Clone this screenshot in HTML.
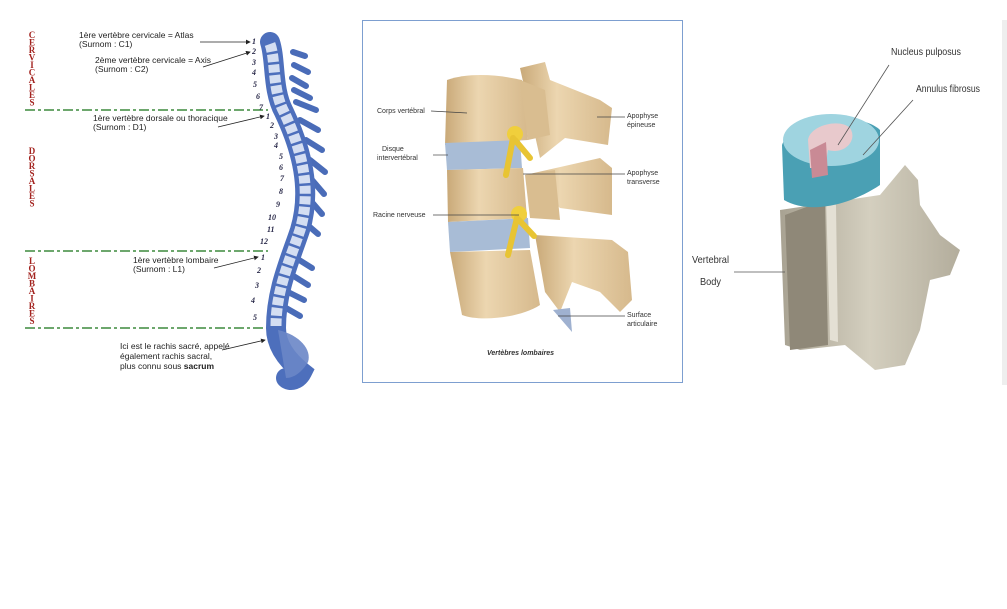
<!DOCTYPE html>
<html><head><meta charset="utf-8"><style>
body{margin:0;background:#fff;width:1007px;height:609px;overflow:hidden;font-family:"Liberation Sans",sans-serif}
svg{position:absolute;left:0;top:0}
</style></head><body>
<svg width="1007" height="609" viewBox="0 0 1007 609">
<defs>
<marker id="ar" markerWidth="6" markerHeight="6" refX="5" refY="3" orient="auto"><path d="M0,0L6,3L0,6z" fill="#222"/></marker>
<linearGradient id="bone" x1="0" x2="1"><stop offset="0" stop-color="#c9a978"/><stop offset=".4" stop-color="#ecd6b0"/><stop offset="1" stop-color="#d6b98c"/></linearGradient>
<linearGradient id="gb" x1="0" x2="1"><stop offset="0" stop-color="#a8a292"/><stop offset=".5" stop-color="#d4cfbf"/><stop offset="1" stop-color="#b3ad9c"/></linearGradient>
</defs>

<!-- Panel 1 -->
<g font-family="Liberation Serif,serif" font-weight="bold" font-size="9" fill="#a3231f" text-anchor="middle">
<text x="32" y="38">C</text><text x="32" y="45.5">E</text><text x="32" y="53">R</text><text x="32" y="60.5">V</text><text x="32" y="68">I</text><text x="32" y="75.5">C</text><text x="32" y="83">A</text><text x="32" y="90.5">L</text><text x="32" y="98">E</text><text x="32" y="105.5">S</text>
<text x="32" y="154">D</text><text x="32" y="161.5">O</text><text x="32" y="169">R</text><text x="32" y="176.5">S</text><text x="32" y="184">A</text><text x="32" y="191.5">L</text><text x="32" y="199">E</text><text x="32" y="206.5">S</text>
<text x="32" y="264">L</text><text x="32" y="271.5">O</text><text x="32" y="279">M</text><text x="32" y="286.5">B</text><text x="32" y="294">A</text><text x="32" y="301.5">I</text><text x="32" y="309">R</text><text x="32" y="316.5">E</text><text x="32" y="324">S</text>
</g>
<g stroke="#3d8a3d" stroke-width="1.6" stroke-dasharray="10,3,3,3">
<line x1="25" y1="110" x2="268" y2="110"/><line x1="25" y1="251" x2="268" y2="251"/><line x1="25" y1="328" x2="268" y2="328"/>
</g>
<!-- spine -->
<path d="M293,52 L305,56 M294,65 L308,72 M292,78 L306,86 M294,90 L310,98 M296,102 L316,110 M300,120 L318,130 M306,140 L322,150 M310,160 L325,172 M312,180 L324,194 M310,200 L322,214 M304,222 L318,234 M296,258 L312,268 M292,275 L308,285 M288,292 L304,300 M286,308 L300,316" stroke="#4a6cb8" stroke-width="6" stroke-linecap="round"/>
<path d="M270,42 C276,60 272,90 284,112 C302,150 312,190 300,230 C290,260 276,290 276,328 C276,345 287,360 302,372 C298,380 290,382 286,378" fill="none" stroke="#4d6fbc" stroke-width="20" stroke-linecap="round"/>
<path d="M270,44 C276,60 272,90 284,112 C302,150 312,190 300,230 C290,260 276,290 276,326" fill="none" stroke="#d4def2" stroke-width="11" stroke-dasharray="8,2.5"/>
<path d="M278,330 C300,335 312,350 308,362 C302,372 294,378 286,378" fill="#6a86c6" opacity=".9"/>
<g font-size="8" font-style="italic" font-weight="bold" fill="#2a2a4a" font-family="Liberation Serif,serif">
<text x="252" y="44">1</text><text x="252" y="54">2</text><text x="252" y="65">3</text><text x="252" y="75">4</text><text x="253" y="87">5</text><text x="256" y="99">6</text><text x="259" y="110">7</text>
<text x="266" y="119">1</text><text x="270" y="128">2</text><text x="274" y="139">3</text><text x="274" y="148">4</text><text x="279" y="159">5</text><text x="279" y="170">6</text><text x="280" y="181">7</text><text x="279" y="194">8</text><text x="276" y="207">9</text><text x="268" y="220">10</text><text x="267" y="232">11</text><text x="260" y="244">12</text>
<text x="261" y="260">1</text><text x="257" y="273">2</text><text x="255" y="288">3</text><text x="251" y="303">4</text><text x="253" y="320">5</text>
</g>
<g font-size="8.5" fill="#222">
<text x="79" y="38">1ère vertèbre cervicale = Atlas</text><text x="79" y="47">(Surnom : C1)</text>
<text x="95" y="63">2ème vertèbre cervicale = Axis</text><text x="95" y="72">(Surnom : C2)</text>
<text x="93" y="121">1ère vertèbre dorsale ou thoracique</text><text x="93" y="130">(Surnom : D1)</text>
<text x="133" y="263">1ère vertèbre lombaire</text><text x="133" y="272">(Surnom : L1)</text>
<text x="120" y="349">Ici est le rachis sacré, appelé</text><text x="120" y="359">également rachis sacral,</text><text x="120" y="369">plus connu sous <tspan font-weight="bold">sacrum</tspan></text>
</g>
<g stroke="#222" stroke-width=".8" marker-end="url(#ar)">
<line x1="200" y1="42" x2="250" y2="42"/><line x1="203" y1="67" x2="250" y2="52"/><line x1="218" y1="127" x2="264" y2="116"/><line x1="214" y1="268" x2="258" y2="257"/><line x1="222" y1="350" x2="265" y2="340"/>
</g>

<!-- Panel 2 -->
<rect x="362.5" y="20.5" width="320" height="362" fill="#fff" stroke="#7d9fd0"/>
<g>
<path d="M520,68 L545,62 L550,80 L600,100 L612,108 L608,145 L565,138 L540,158 Z" fill="url(#bone)"/>
<path d="M525,175 L600,158 L612,168 L612,215 L560,208 Z" fill="url(#bone)"/>
<path d="M535,235 L612,240 L628,252 L632,300 L620,312 L600,292 L572,282 L560,312 L545,292 Z" fill="url(#bone)"/>
<path d="M553,310 L570,308 L572,332 Z" fill="#9fb1d0"/>
<path d="M447,80 C470,72 500,75 522,80 L528,140 L445,145 Z" fill="url(#bone)"/>
<path d="M445,143 L520,140 L522,168 L447,170 Z" fill="#a8bcd6"/>
<path d="M447,170 L523,168 L527,218 L448,222 Z" fill="url(#bone)"/>
<path d="M448,222 L528,218 L530,248 L450,252 Z" fill="#a8bcd6"/>
<path d="M450,252 L530,250 L540,305 C520,318 480,322 462,315 Z" fill="url(#bone)"/>
<path d="M520,80 L545,90 L550,135 L528,140 Z" fill="#d9bd90"/>
<path d="M525,175 L555,170 L560,220 L530,218 Z" fill="#d9bd90"/>
<circle cx="515" cy="134" r="8" fill="#f0cf3c"/><path d="M513,138 L506,175 M515,140 L530,158" stroke="#e8c433" stroke-width="6" stroke-linecap="round"/>
<circle cx="519" cy="214" r="8" fill="#f0cf3c"/><path d="M517,218 L508,255 M519,220 L534,236" stroke="#e8c433" stroke-width="6" stroke-linecap="round"/>
</g>
<g font-size="7" fill="#333">
<text x="377" y="113">Corps vertébral</text>
<text x="382" y="151">Disque</text><text x="377" y="160">intervertébral</text>
<text x="373" y="217">Racine nerveuse</text>
<text x="627" y="118">Apophyse</text><text x="627" y="127">épineuse</text>
<text x="627" y="175">Apophyse</text><text x="627" y="184">transverse</text>
<text x="627" y="317">Surface</text><text x="627" y="326">articulaire</text>
<text x="487" y="355" font-weight="bold" font-style="italic">Vertèbres lombaires</text>
</g>
<g stroke="#444" stroke-width=".7">
<line x1="431" y1="111" x2="467" y2="113"/><line x1="433" y1="155" x2="448" y2="155"/><line x1="433" y1="215" x2="519" y2="215"/>
<line x1="597" y1="117" x2="625" y2="117"/><line x1="523" y1="174" x2="625" y2="174"/><line x1="558" y1="316" x2="625" y2="316"/>
</g>

<!-- Panel 3 -->
<rect x="1002" y="20" width="5" height="365" fill="#eeeeee"/>
<path d="M780,210 L880,195 L905,165 L918,180 L920,205 L940,235 L960,250 L950,275 L930,280 L920,330 L905,365 L875,370 L845,345 L800,350 L785,345 Z" fill="url(#gb)"/>
<path d="M785,215 L825,200 L828,345 L790,350 Z" fill="#8f8878"/>
<path d="M826,198 L830,340 L838,342 L836,205 Z" fill="#e4e0d4"/>
<path d="M782,145 C790,120 860,110 880,130 L880,185 C850,205 810,215 784,200 Z" fill="#4aa0b4"/>
<ellipse cx="831" cy="140" rx="48" ry="26" fill="#9fd4e0"/>
<path d="M808,140 C810,125 840,118 850,128 C858,140 845,155 828,150 L825,168 L810,168 Z" fill="#e8c9cc"/>
<path d="M810,150 L826,142 L828,175 L812,178 Z" fill="#c98a95"/>
<g font-size="10.5" fill="#333">
<text x="891" y="55" textLength="70" lengthAdjust="spacingAndGlyphs">Nucleus pulposus</text>
<text x="916" y="92" textLength="64" lengthAdjust="spacingAndGlyphs">Annulus fibrosus</text>
<text x="692" y="263" textLength="37" lengthAdjust="spacingAndGlyphs">Vertebral</text><text x="700" y="285" textLength="21" lengthAdjust="spacingAndGlyphs">Body</text>
</g>
<g stroke="#555" stroke-width=".8">
<line x1="889" y1="65" x2="838" y2="145"/><line x1="913" y1="100" x2="863" y2="155"/><line x1="734" y1="272" x2="785" y2="272"/>
</g>
</svg>
</body></html>
